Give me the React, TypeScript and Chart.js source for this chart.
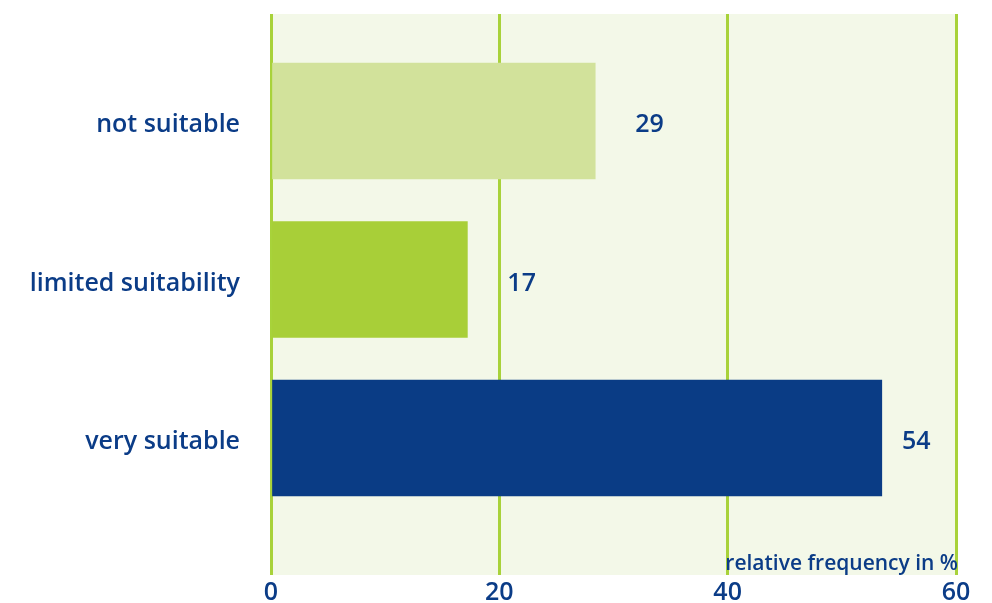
import React, { useEffect, useRef } from "react";
import { Chart, registerables } from "chart.js";

Chart.register(...registerables);

const categories = ["not suitable", "limited suitability", "very suitable"];
const values = [28.4, 17.2, 53.5];
const valueLabels = ["29", "17", "54"];
const barColors = ["#d2e29b", "#a8cf38", "#0a3c85"];
const xTicks = [0, 20, 40, 60];
const axisTitle = "relative frequency in %";

const TEXT = "#0b3c87";
const FONT = "'Open Sans', 'Noto Sans', sans-serif";

export default function App() {
  const ref = useRef<HTMLCanvasElement | null>(null);

  useEffect(() => {
    const canvas = ref.current;
    if (!canvas) return;

    const bgPlugin = {
      id: "bg",
      beforeDraw(chart: any) {
        const { ctx, chartArea } = chart;
        ctx.save();
        ctx.fillStyle = "#f3f8e8";
        ctx.fillRect(chartArea.left - 1, chartArea.top, chartArea.right - chartArea.left + 1, chartArea.bottom - chartArea.top);
        ctx.restore();
      },
    };

    const labelPlugin = {
      id: "labels",
      afterDatasetsDraw(chart: any) {
        const { ctx, chartArea } = chart;
        const meta = chart.getDatasetMeta(0);
        ctx.save();
        ctx.fillStyle = TEXT;
        ctx.font = `600 25px ${FONT}`;
        ctx.textBaseline = "middle";
        ctx.textAlign = "left";
        meta.data.forEach((el: any, i: number) => {
          const x = Math.min(el.x + 40, chartArea.right - 54);
          ctx.fillText(valueLabels[i], x, el.y + 4);
        });
        ctx.font = `600 21px ${FONT}`;
        ctx.textAlign = "right";
        ctx.textBaseline = "alphabetic";
        ctx.fillText(axisTitle, chartArea.right + 2, chartArea.bottom - 5);
        ctx.restore();
      },
    };

    const chart = new Chart(canvas, {
      type: "bar",
      data: {
        datasets: [
          {
            data: values.map((v, i) => ({ x: v, y: i })),
            backgroundColor: barColors,
            borderWidth: 0,
            barThickness: 116,
          },
        ],
      },
      options: {
        indexAxis: "y",
        animation: false,
        responsive: false,
        maintainAspectRatio: false,
        layout: { padding: { top: 14, right: 36, left: 0, bottom: 0 } },
        plugins: {
          legend: { display: false },
          tooltip: { enabled: false },
        },
        scales: {
          x: {
            type: "linear",
            min: 0,
            max: 60,
            offset: false,
            afterBuildTicks(scale: any) {
              scale.ticks = xTicks.map((v) => ({ value: v }));
            },
            afterFit(scale: any) {
              scale.height = 28;
              scale.paddingLeft = 0;
              scale.paddingRight = 0;
            },
            grid: {
              color: "#a8d23a",
              lineWidth: 3,
              drawTicks: false,
              offset: false,
            },
            border: { display: false },
            ticks: {
              color: TEXT,
              padding: 3,
              font: { family: FONT, size: 25, weight: "600" as any },
            },
          },
          y: {
            type: "linear",
            reverse: true,
            offset: false,
            min: -0.675,
            max: 2.864,
            afterBuildTicks(scale: any) {
              scale.ticks = categories.map((_, i) => ({ value: i }));
            },
            afterFit(scale: any) {
              scale.width = 271;
              scale.paddingTop = 0;
              scale.paddingBottom = 0;
            },
            grid: { display: false, drawTicks: false, offset: false },
            border: { display: false },
            ticks: {
              color: TEXT,
              padding: 31,
              labelOffset: 4,
              font: { family: FONT, size: 25, weight: "600" as any },
              callback: (v: any) => categories[Math.round(Number(v))] ?? "",
            },
          },
        },
      },
      plugins: [bgPlugin, labelPlugin],
    } as any);

    return () => chart.destroy();
  }, []);

  return (
    <div style={{ position: "fixed", left: 0, top: 0, width: 992, height: 603, background: "#fff" }}>
      <canvas ref={ref} width={992} height={603} style={{ display: "block" }} />
    </div>
  );
}
